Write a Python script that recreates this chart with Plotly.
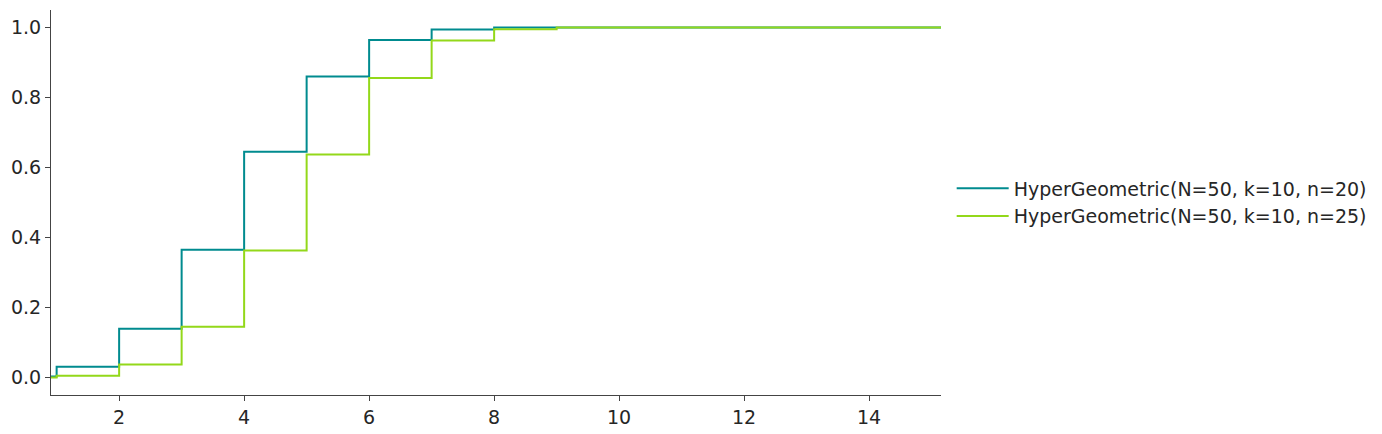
import plotly.graph_objects as go

# support and cumulative probabilities
k_values = [0, 1, 2, 3, 4, 5, 6, 7, 8, 9, 10, 11, 12, 13, 14, 15, 16]
cdf_n20 = [0.003, 0.031, 0.139, 0.365, 0.645, 0.860, 0.964, 0.994, 0.9997,
           1.0, 1.0, 1.0, 1.0, 1.0, 1.0, 1.0, 1.0]
cdf_n25 = [0.0003, 0.005, 0.037, 0.145, 0.363, 0.637, 0.856, 0.963, 0.995,
           0.9997, 1.0, 1.0, 1.0, 1.0, 1.0, 1.0, 1.0]
names = ["HyperGeometric(N=50, k=10, n=20)", "HyperGeometric(N=50, k=10, n=25)"]
colors = ["#008b8f", "#93d81a"]

fig = go.Figure()
for y, name, c in zip([cdf_n20, cdf_n25], names, colors):
    fig.add_trace(go.Scatter(x=k_values, y=y, mode="lines", name=name,
                             line=dict(color=c, width=2, shape="hv")))

axis_style = dict(showline=True, linecolor="#444444", linewidth=1.2, ticks="outside",
                  ticklen=5, tickcolor="#444444", showgrid=False, zeroline=False,
                  automargin=False, tickfont=dict(size=19, color="#262626"))

# page body adds ~8px offset, margins compensate for it
fig.update_layout(
    width=1382, height=434,
    margin=dict(l=43, r=449, t=2, b=47),
    plot_bgcolor="white", paper_bgcolor="white",
    font=dict(family="DejaVu Sans", size=19, color="#262626"),
    legend=dict(x=1.012, y=0.5, xanchor="left", yanchor="middle",
                font=dict(size=19), itemwidth=52),
    xaxis=dict(range=[0.91, 15.15], tickvals=[2, 4, 6, 8, 10, 12, 14], **axis_style),
    yaxis=dict(range=[-0.05, 1.05], tickvals=[0, 0.2, 0.4, 0.6, 0.8, 1.0],
               tickformat=".1f", **axis_style),
)

fig.write_html("out.html")
